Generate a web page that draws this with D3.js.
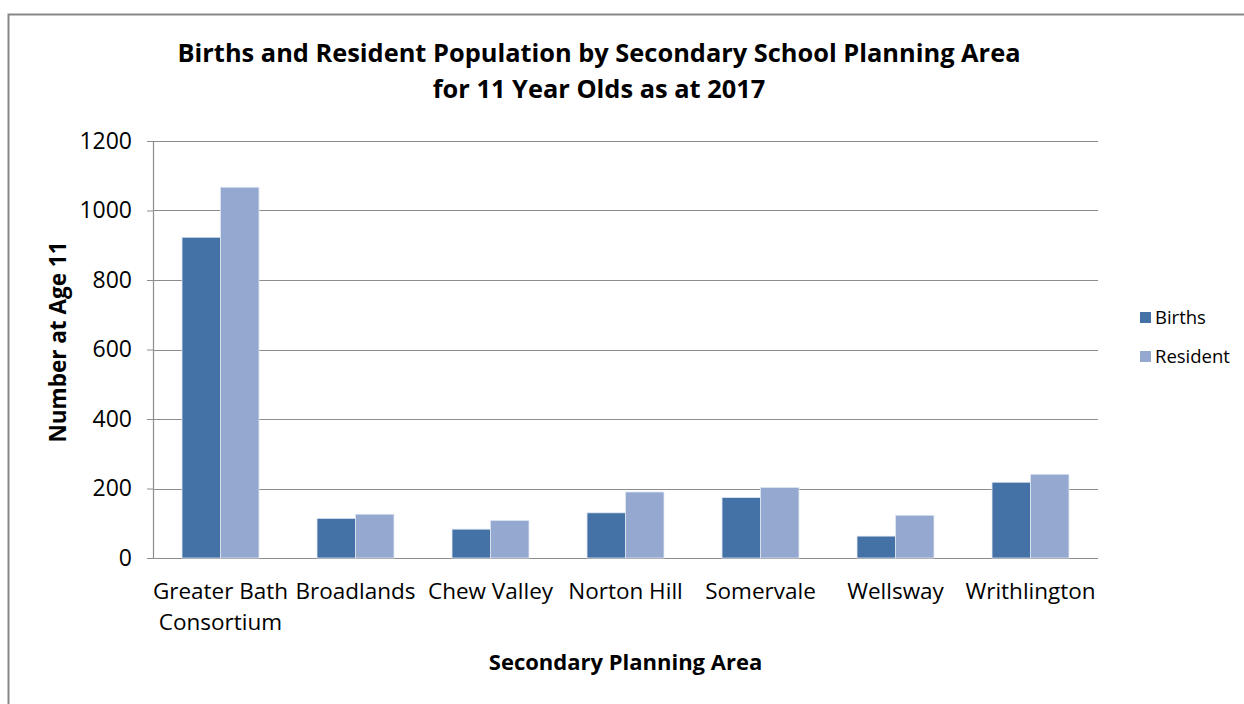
<!DOCTYPE html>
<html>
<head>
<meta charset="utf-8">
<script src="https://cdn.jsdelivr.net/npm/d3@7"></script>
<style>
  body { margin: 0; background: #fff; overflow: hidden; }
  text { font-family: "Open Sans", Lato, sans-serif; fill: #000; }
</style>
</head>
<body>
<script>
// Births vs resident population, 11 year olds, by secondary planning area

const areas = ["Greater Bath Consortium", "Broadlands", "Chew Valley", "Norton Hill", "Somervale", "Wellsway", "Writhlington"];
const births = [923, 114, 83, 130, 174, 63, 218];
const resident = [1067, 126, 108, 190, 203, 123, 241];
const seriesNames = ["Births", "Resident"];
const yTicks = [0, 200, 400, 600, 800, 1000, 1200];

const colors = {Births: "#4472a6", Resident: "#95a9d0"};

const outerWidth = 1244, outerHeight = 704;
const margin = {top: 141, right: 146, bottom: 146, left: 153};
const innerWidth = outerWidth - margin.left - margin.right;
const innerHeight = outerHeight - margin.top - margin.bottom;

const svg = d3.select("body").append("svg")
    .attr("width", outerWidth)
    .attr("height", outerHeight)
    .style("display", "block");

// chart frame (only top and left edges are inside the picture)
svg.append("path")
    .attr("d", "M8.5,704V14.5H1244")
    .attr("fill", "none")
    .attr("stroke", "#878787")
    .attr("stroke-width", 2);

const g = svg.append("g")
    .attr("transform", `translate(${margin.left},${margin.top})`);

const x0 = d3.scaleBand().domain(areas).range([0, innerWidth]).paddingInner(0.43).paddingOuter(0.215);
const x1 = d3.scaleBand().domain(seriesNames).range([0, x0.bandwidth()]);
const y = d3.scaleLinear().domain([0, 1200]).range([innerHeight, 0]);

// gridlines
g.selectAll(".grid").data(yTicks).join("line")
    .attr("x1", 0).attr("x2", innerWidth)
    .attr("y1", d => Math.round(y(d)) + 0.5).attr("y2", d => Math.round(y(d)) + 0.5)
    .attr("stroke", "#8c8c8c").attr("stroke-width", 1.2);

// y axis
const yAxis = g.append("g")
    .call(d3.axisLeft(y).tickValues(yTicks).tickSize(6).tickPadding(15).tickFormat(d3.format("d")));
yAxis.select(".domain").attr("stroke", "#8c8c8c").attr("stroke-width", 1.2);
yAxis.selectAll(".tick line").attr("stroke", "#8c8c8c");
yAxis.selectAll("text").style("font-size", "23px").style("font-family", "'Open Sans', sans-serif").attr("fill", "#000");

// bars
const rows = areas.map((a, i) => ({area: a, values: [
    {key: "Births", value: births[i]},
    {key: "Resident", value: resident[i]}]}));

g.selectAll(".group").data(rows).join("g")
    .attr("transform", d => `translate(${x0(d.area)},0)`)
  .selectAll("rect").data(d => d.values).join("rect")
    .attr("x", d => x1(d.key))
    .attr("y", d => y(d.value))
    .attr("width", x1.bandwidth())
    .attr("height", d => innerHeight - y(d.value))
    .attr("fill", d => colors[d.key])
    .attr("stroke", "#dfe6f2")
    .attr("stroke-width", 0.8);

// category labels
const catLabels = g.selectAll(".cat").data(areas).join("text")
    .attr("text-anchor", "middle")
    .attr("transform", d => `translate(${x0(d) + x0.bandwidth() / 2},${innerHeight + 41})`)
    .style("font-size", "22.5px");
catLabels.each(function(d) {
  const lines = d === "Greater Bath Consortium" ? ["Greater Bath", "Consortium"] : [d];
  d3.select(this).selectAll("tspan").data(lines).join("tspan")
      .attr("x", 0).attr("dy", (l, i) => i === 0 ? 0 : 31)
      .text(l => l);
});

// axis titles
g.append("text")
    .attr("x", innerWidth / 2).attr("y", innerHeight + 112)
    .attr("text-anchor", "middle")
    .style("font-size", "22px").style("font-weight", "bold")
    .text("Secondary Planning Area");

svg.append("text")
    .attr("transform", "translate(66,342) rotate(-90)")
    .attr("text-anchor", "middle")
    .style("font-size", "22.5px").style("font-weight", "bold")
    .text("Number at Age 11");

// title
const title = svg.append("text")
    .attr("x", 599).attr("y", 62)
    .attr("text-anchor", "middle")
    .style("font-size", "25.4px").style("font-weight", "bold");
title.append("tspan").attr("x", 599).text("Births and Resident Population by Secondary School Planning Area");
title.append("tspan").attr("x", 599).attr("dy", 36).text("for 11 Year Olds as at 2017");

// legend
const legend = svg.append("g").attr("transform", "translate(1140,312)");
legend.selectAll("rect").data(seriesNames).join("rect")
    .attr("x", 0).attr("y", (d, i) => i * 39)
    .attr("width", 11).attr("height", 11)
    .attr("fill", d => colors[d]);
legend.selectAll("text").data(seriesNames).join("text")
    .attr("x", 15).attr("y", (d, i) => i * 39 + 12)
    .style("font-size", "18.5px")
    .text(d => d);
</script>
</body>
</html>
